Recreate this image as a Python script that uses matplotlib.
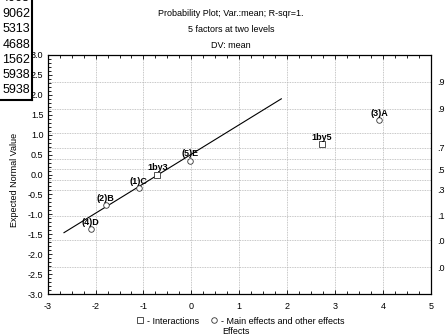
import numpy as np
import matplotlib.pyplot as plt
from matplotlib.lines import Line2D
from matplotlib.ticker import MultipleLocator
from statistics import NormalDist

plt.rcParams['font.family'] = ['Liberation Sans', 'DejaVu Sans']
plt.rcParams['axes.unicode_minus'] = False

# effect estimates against their expected normal values
effect_names = ['(4)D', '(2)B', '(1)C', '1by3', '(5)E', '1by5', '(3)A']
effect_vals = [-2.10, -1.79, -1.10, -0.71, -0.03, 2.72, 3.92]
normal_vals = [-1.37, -0.76, -0.35, 0.00, 0.35, 0.76, 1.37]
is_interaction = [False, False, False, True, False, True, False]

# fitted reference line
line_x = [-2.66, 1.88]
line_y = [-1.46, 1.90]

# probability scale shown on the right
prob_levels = [.01, .05, .15, .35, .45, .55, .65, .75, .85, .95, .99]
prob_labels = ['.01', '.05', '.15', '.35', '', '.55', '', '.75', '', '.95', '.99']

# leftover spreadsheet column in the corner
sheet_cells = ['4063', '9062', '5313', '4688', '1562', '5938', '5938']

W, H = 445, 334
fig = plt.figure(figsize=(W / 100, H / 100), dpi=100)
ax = fig.add_axes([47.7 / W, 1 - 294 / H, (430.7 - 47.7) / W, (294 - 55) / H])
ax.set_xlim(-3, 5)
ax.set_ylim(-3, 3)

fs = 6.5
grid_kw = dict(color='#b4b4b4', lw=0.6, ls=(0, (1, 1)), zorder=0.5)
for xv in range(-2, 5):
    ax.axvline(xv, **grid_kw)
z_levels = [NormalDist().inv_cdf(p) for p in prob_levels]
for z in z_levels:
    ax.axhline(z, **grid_kw)

ax.set_xticks(range(-3, 6))
ax.set_yticks(np.arange(-3, 3.01, 0.5))
ax.yaxis.set_major_formatter('{x:.1f}')
ax.xaxis.set_minor_locator(MultipleLocator(0.25))
ax.yaxis.set_minor_locator(MultipleLocator(0.1))
ax.tick_params(which='both', direction='in', top=True, right=True,
               width=0.6, labelsize=fs)
ax.tick_params(which='major', length=3)
ax.tick_params(which='minor', length=2)
ax.tick_params(axis='x', pad=6)
ax.tick_params(axis='y', pad=3)
for s in ax.spines.values():
    s.set_linewidth(0.9)

ax2 = ax.twinx()
ax2.set_ylim(-3, 3)
ax2.set_yticks(z_levels, prob_labels)
ax2.tick_params(length=0, pad=5, labelsize=fs)
for s in ax2.spines.values():
    s.set_visible(False)

ax.plot(line_x, line_y, color='black', lw=0.8, zorder=2)

for name, xv, yv, inter in zip(effect_names, effect_vals, normal_vals, is_interaction):
    ax.plot(xv, yv, marker='s' if inter else 'o', ms=4, mfc='white',
            mec='#333333', mew=0.6, ls='none', zorder=3)
    ax.annotate(name, (xv, yv), xytext=(0, 3), textcoords='offset points',
                ha='center', va='baseline', fontsize=fs, fontweight='bold',
                zorder=4)

title = 'Probability Plot; Var.:mean; R-sqr=1.\n5 factors at two levels\nDV: mean'
fig.text(231 / W, 1 - 8.5 / H, title, ha='center', va='top', fontsize=fs,
         linespacing=2.05)
fig.text(15 / W, 1 - 180 / H, 'Expected Normal Value', rotation=90,
         ha='center', va='center', fontsize=fs)
fig.text(236 / W, 1 - 331 / H, 'Effects', ha='center', va='center', fontsize=fs)

handles = [Line2D([], [], marker='s', ls='none', ms=4, mfc='white', mec='#333333', mew=0.6),
           Line2D([], [], marker='o', ls='none', ms=4, mfc='white', mec='#333333', mew=0.6)]
fig.legend(handles, ['- Interactions', '- Main effects and other effects'],
           loc='center', bbox_to_anchor=(240 / W, 1 - 321 / H), ncol=2,
           frameon=False, fontsize=fs, handlelength=1, handletextpad=0.2,
           columnspacing=1.2, borderpad=0)

# spreadsheet fragment
row_y = [-2.3, 14, 29.5, 45, 60, 75, 90]
for txt, yy in zip(sheet_cells, row_y):
    fig.text(30 / W, 1 - yy / H, txt, ha='right', va='center', fontsize=9,
             zorder=10)
for yy in [6.5, 22, 37, 52.5, 67.5, 82.5]:
    fig.add_artist(Line2D([0, 31 / W], [1 - yy / H] * 2, color='#c8c8c8', lw=0.8))
fig.patches.append(plt.Rectangle((0, 1 - 100 / H), 31.5 / W, 100 / H,
                                 transform=fig.transFigure, fc='white', ec='none',
                                 zorder=5))
fig.add_artist(Line2D([31.5 / W] * 2, [1 - 100 / H, 1], color='black', lw=1.5, zorder=11))
fig.add_artist(Line2D([0, 32.2 / W], [1 - 100 / H] * 2, color='black', lw=1.5, zorder=11))

fig.savefig('out.png', dpi=100)
